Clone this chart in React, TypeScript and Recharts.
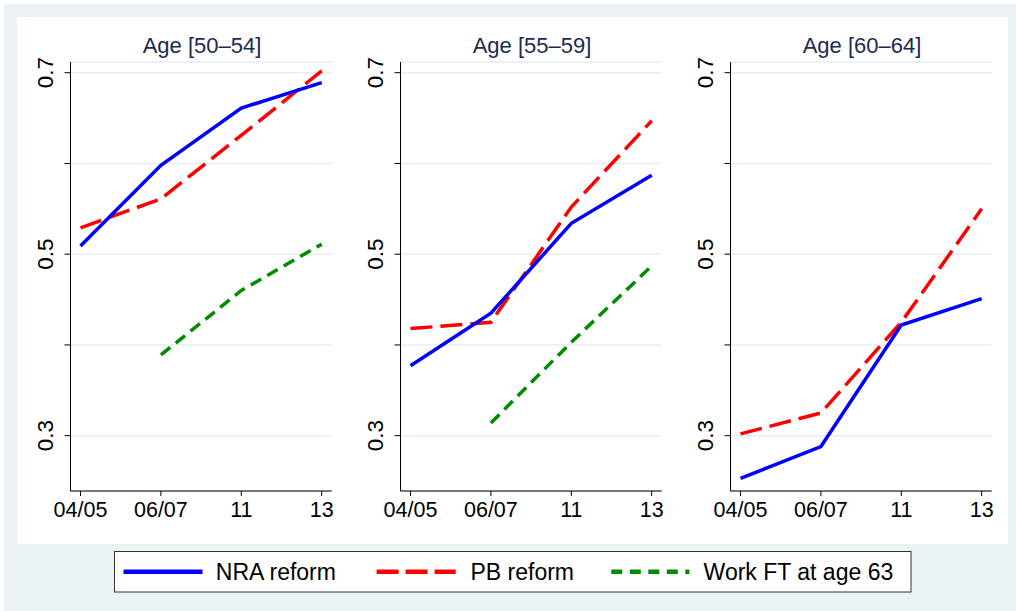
import React from 'react';
import { LineChart, Line, XAxis, YAxis, CartesianGrid } from 'recharts';

// ---- data ----
const categories = ['04/05', '06/07', '11', '13'];
const panelTitles = ['Age [50\u201354]', 'Age [55\u201359]', 'Age [60\u201364]'];

const nra5054 = [0.509, 0.598, 0.661, 0.689];
const pb5054 = [0.529, 0.561, 0.631, 0.702];
const ft5054 = [null, 0.389, 0.46, 0.511];

const nra5559 = [0.377, 0.435, 0.534, 0.587];
const pb5559 = [0.418, 0.425, 0.552, 0.647];
const ft5559 = [null, 0.314, 0.403, 0.487];

const nra6064 = [0.253, 0.288, 0.422, 0.451];
const pb6064 = [0.302, 0.325, 0.425, 0.55];
const ft6064: (number | null)[] = [null, null, null, null];

const yTicks = [0.3, 0.4, 0.5, 0.6, 0.7];
const yTickLabels = ['0.3', '', '0.5', '', '0.7'];
const yDomain = [0.23906, 0.71179];

const legendLabels = ['NRA reform', 'PB reform', 'Work FT at age 63'];

// ---- style ----
const FONT = '"Liberation Sans", Arial, Helvetica, sans-serif';
const BLUE = '#0000FF';
const RED = '#FF0000';
const GREEN = '#008C00';
const BG = '#EAF2F3';
const GRID = '#E6EEF1';
const TITLE = '#1C2B4F';

const panels = [
  { nra: nra5054, pb: pb5054, ft: ft5054 },
  { nra: nra5559, pb: pb5559, ft: ft5559 },
  { nra: nra6064, pb: pb6064, ft: ft6064 },
];

function buildRows(p: { nra: number[]; pb: number[]; ft: (number | null)[] }) {
  return categories.map((c, i) => ({ cat: c, nra: p.nra[i], pb: p.pb[i], ft: p.ft[i] }));
}

function YTick(props: any) {
  const { x, y, payload } = props;
  const idx = yTicks.indexOf(payload.value);
  const label = idx >= 0 ? yTickLabels[idx] : '';
  if (!label) return null;
  const cx = x - 19;
  return (
    <text
      x={cx}
      y={y}
      transform={`rotate(-90 ${cx} ${y})`}
      textAnchor="middle"
      dominantBaseline="central"
      fontSize={22.5}
      fontFamily={FONT}
      fill="#000"
    >
      {label}
    </text>
  );
}

function Panel({ index }: { index: number }) {
  const p = panels[index];
  const rows = buildRows(p);
  const hasFt = p.ft.some((v) => v !== null);
  return (
    <div style={{ position: 'absolute', left: 330 * index, top: 0 }}>
      <LineChart width={346} height={611} data={rows} margin={{ top: 62, right: 14.3, bottom: 90, left: 0 }}>
        <CartesianGrid horizontal vertical={false} stroke={GRID} strokeWidth={1.5} />
        <XAxis
          dataKey="cat"
          padding={{ left: 10, right: 10 }}
          interval={0}
          tickSize={5}
          tickMargin={6}
          height={30}
          axisLine={{ stroke: '#000', strokeWidth: 1 }}
          tickLine={{ stroke: '#000', strokeWidth: 1 }}
          tick={{ fill: '#000', fontSize: 21.5, fontFamily: FONT }}
        />
        <YAxis
          type="number"
          domain={yDomain}
          ticks={yTicks}
          allowDataOverflow
          width={70.5}
          tickSize={6}
          tickMargin={0}
          axisLine={{ stroke: '#000', strokeWidth: 1 }}
          tickLine={{ stroke: '#000', strokeWidth: 1 }}
          tick={<YTick />}
        />
        {hasFt && (
          <Line
            type="linear"
            dataKey="ft"
            stroke={GREEN}
            strokeWidth={3.5}
            strokeDasharray="12 7"
            dot={false}
            activeDot={false}
            isAnimationActive={false}
          />
        )}
        <Line
          type="linear"
          dataKey="pb"
          stroke={RED}
          strokeWidth={3.5}
          strokeDasharray="22 8"
          dot={false}
          activeDot={false}
          isAnimationActive={false}
        />
        <Line
          type="linear"
          dataKey="nra"
          stroke={BLUE}
          strokeWidth={3.5}
          dot={false}
          activeDot={false}
          isAnimationActive={false}
        />
      </LineChart>
    </div>
  );
}

export default function App() {
  return (
    <div style={{ position: 'absolute', left: 0, top: 0, width: 1016, height: 611, background: '#fff', overflow: 'hidden' }}>
      <div style={{ position: 'absolute', left: 4, top: 4, width: 1012, height: 607, background: BG }} />
      <div style={{ position: 'absolute', left: 17, top: 17, width: 991, height: 527, background: '#fff' }} />
      <svg
        width={1016}
        height={611}
        style={{ position: 'absolute', left: 0, top: 0, pointerEvents: 'none' }}
      >
        {panelTitles.map((t, i) => (
          <text
            key={t}
            x={202 + 330 * i}
            y={52.7}
            textAnchor="middle"
            fontSize={22}
            fontFamily={FONT}
            fill={TITLE}
          >
            {t}
          </text>
        ))}
        <rect x={114.5} y={551.5} width={796.5} height={40.5} fill="#fff" stroke="#333" strokeWidth={1} />
        <line x1={123.5} x2={202.5} y1={571.7} y2={571.7} stroke={BLUE} strokeWidth={4.5} />
        <text x={215.8} y={580} fontSize={23} fontFamily={FONT} fill="#000">{legendLabels[0]}</text>
        <line x1={376.6} x2={455.7} y1={571.7} y2={571.7} stroke={RED} strokeWidth={4.5} strokeDasharray="22 7" />
        <text x={470.5} y={580} fontSize={23} fontFamily={FONT} fill="#000">{legendLabels[1]}</text>
        <line x1={611.3} x2={689.4} y1={571.7} y2={571.7} stroke={GREEN} strokeWidth={4.5} strokeDasharray="11 7.5" />
        <text x={703.6} y={580} fontSize={23} fontFamily={FONT} fill="#000">{legendLabels[2]}</text>
      </svg>
      {panelTitles.map((t, i) => (
        <Panel key={t} index={i} />
      ))}
    </div>
  );
}
